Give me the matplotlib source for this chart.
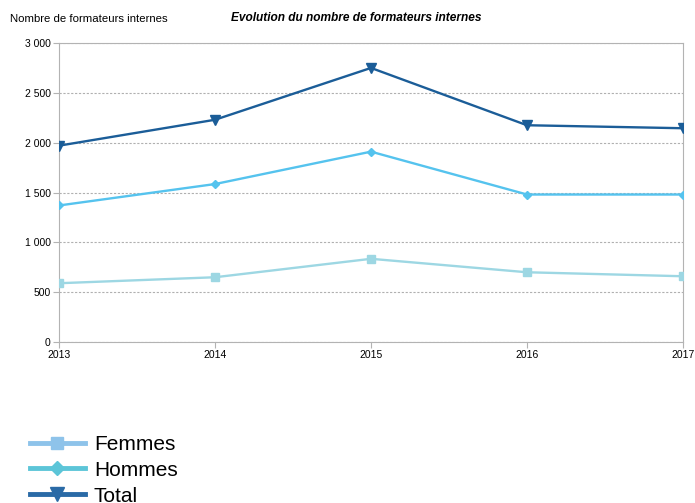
import matplotlib
matplotlib.use("Agg")
import matplotlib.pyplot as plt
from matplotlib.lines import Line2D

plt.rcParams['font.family'] = ['Liberation Sans', 'DejaVu Sans']

YEARS = [2013, 2014, 2015, 2016, 2017]
FEMMES = [590, 650, 835, 700, 660]
HOMMES = [1370, 1585, 1910, 1480, 1480]
TOTAL = [1970, 2230, 2750, 2175, 2145]

YTICKS = [0, 500, 1000, 1500, 2000, 2500, 3000]
YLABELS = ["0", "500", "1 000", "1 500", "2 000", "2 500", "3 000"]

fig = plt.figure(figsize=(6.95, 5.03), dpi=100)
ax = fig.add_axes([0.0849, 0.320, 0.8978, 0.5945])

ax.plot(YEARS, FEMMES, color="#9dd7e3", linewidth=1.7, marker="s", markersize=5.5, zorder=3)
ax.plot(YEARS, HOMMES, color="#55c3ee", linewidth=1.7, marker="D", markersize=4, zorder=3)
ax.plot(YEARS, TOTAL, color="#1b5d98", linewidth=1.7, marker="v", markersize=6.5, zorder=3)

ax.set_xlim(2013, 2017)
ax.set_ylim(0, 3000)
ax.set_xticks(YEARS, labels=[str(y) for y in YEARS])
ax.set_yticks(YTICKS, labels=YLABELS)
ax.grid(axis="y", color="#b0b0b0", linestyle=(0, (2, 1.5)), linewidth=0.8)
for s in ax.spines.values():
    s.set_color("#b3b3b3")
ax.tick_params(axis="both", labelsize=7.5, color="#b3b3b3", length=4, pad=2)
ax.tick_params(axis="x", pad=2)

fig.text(0.014, 0.963, "Nombre de formateurs internes", fontsize=8.2, va="center")
fig.text(0.512, 0.965, "Evolution du nombre de formateurs internes", fontsize=8.6,
         style="italic", fontweight="bold", ha="center", va="center")

handles = [
    Line2D([], [], color="#8ec3ea", linewidth=3.5, marker="s", markersize=9),
    Line2D([], [], color="#5cc5d8", linewidth=3.5, marker="D", markersize=7),
    Line2D([], [], color="#2a6aa6", linewidth=3.5, marker="v", markersize=10),
]
fig.legend(handles, ["Femmes", "Hommes", "Total"], loc="upper left",
           bbox_to_anchor=(0.031, 0.152), frameon=False, fontsize=15,
           handlelength=2.64, handletextpad=0.43, labelspacing=0.33,
           borderaxespad=0)

fig.savefig("out.png", dpi=100)
